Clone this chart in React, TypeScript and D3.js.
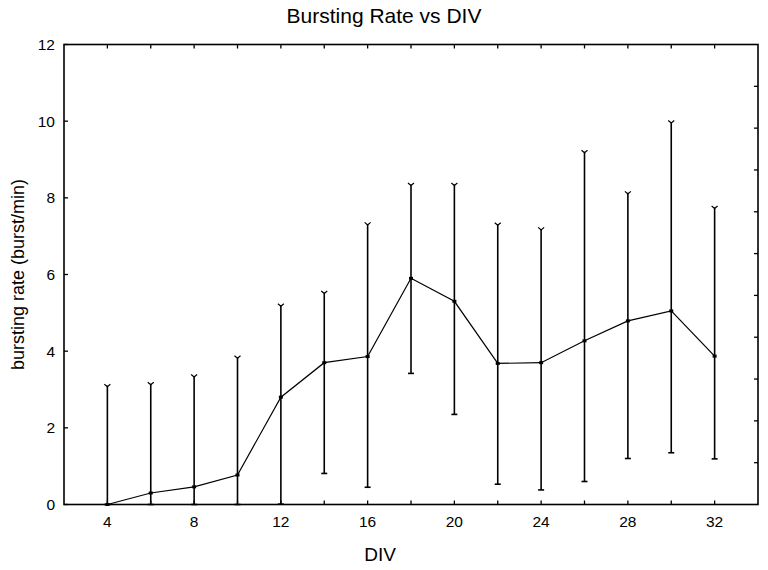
import React, { useRef, useEffect } from 'react';
import * as d3 from 'd3';

const div = [4, 6, 8, 10, 12, 14, 16, 18, 20, 22, 24, 26, 28, 30, 32];
const meanRate = [0.0, 0.3, 0.46, 0.77, 2.8, 3.7, 3.86, 5.9, 5.3, 3.68, 3.7, 4.27, 4.79, 5.05, 3.87];
const upperRate = [3.1, 3.15, 3.35, 3.84, 5.2, 5.53, 7.32, 8.35, 8.35, 7.31, 7.19, 9.2, 8.13, 9.98, 7.75];
const lowerRate = [0.0, 0.0, 0.0, 0.0, 0.01, 0.81, 0.45, 3.42, 2.35, 0.53, 0.38, 0.6, 1.2, 1.35, 1.19];
const xTickLabels = [4, 8, 12, 16, 20, 24, 28, 32];
const xMinorTicks = [4, 6, 8, 10, 12, 14, 16, 18, 20, 22, 24, 26, 28, 30, 32];
const yTickLabels = [0, 2, 4, 6, 8, 10, 12];

const W = 768;
const H = 570;
const FONT = "'Liberation Sans', Arial, sans-serif";

const App: React.FC = () => {
  const svgRef = useRef<SVGSVGElement>(null);

  useEffect(() => {
    if (!svgRef.current) return;
    const svg = d3.select(svgRef.current);
    svg.selectAll('*').remove();

    const left = 64, right = 758, top = 44.5, bottom = 504.5;

    const x = d3.scaleLinear().domain([2, 34]).range([left, right]);
    const y = d3.scaleLinear().domain([0, 12]).range([bottom, top]);
    // right-hand axis of the frame has its own 11 divisions
    const yRight = d3.scaleLinear().domain([0, 11]).range([bottom, top]);

    const tick = 4;
    const g = svg.append('g');

    // frame
    g.append('rect')
      .attr('x', left).attr('y', top)
      .attr('width', right - left).attr('height', bottom - top)
      .attr('fill', 'none').attr('stroke', '#000').attr('stroke-width', 1.6);

    // bottom + top ticks
    xMinorTicks.forEach(v => {
      g.append('line').attr('x1', x(v)).attr('x2', x(v))
        .attr('y1', bottom).attr('y2', bottom - tick)
        .attr('stroke', '#000').attr('stroke-width', 1.3);
      g.append('line').attr('x1', x(v)).attr('x2', x(v))
        .attr('y1', top).attr('y2', top + tick)
        .attr('stroke', '#000').attr('stroke-width', 1.3);
    });

    // left ticks
    yTickLabels.forEach(v => {
      g.append('line').attr('x1', left).attr('x2', left + tick)
        .attr('y1', y(v)).attr('y2', y(v))
        .attr('stroke', '#000').attr('stroke-width', 1.3);
      g.append('text')
        .attr('x', left - 9).attr('y', y(v) + 5.5)
        .attr('text-anchor', 'end')
        .style('font-family', FONT).style('font-size', '15.5px')
        .text(v);
    });

    // right ticks
    d3.range(1, 11).forEach(v => {
      g.append('line').attr('x1', right).attr('x2', right - tick)
        .attr('y1', yRight(v)).attr('y2', yRight(v))
        .attr('stroke', '#000').attr('stroke-width', 1.3);
    });

    xTickLabels.forEach(v => {
      g.append('text')
        .attr('x', x(v)).attr('y', bottom + 22)
        .attr('text-anchor', 'middle')
        .style('font-family', FONT).style('font-size', '15.5px')
        .text(v);
    });

    // error bars
    div.forEach((d, i) => {
      const cx = x(d);
      g.append('line')
        .attr('x1', cx).attr('x2', cx)
        .attr('y1', y(upperRate[i])).attr('y2', y(lowerRate[i]))
        .attr('stroke', '#000').attr('stroke-width', 1.6);
      // top cap (small V)
      g.append('path')
        .attr('d', `M${cx - 3},${y(upperRate[i]) - 1.5} L${cx},${y(upperRate[i]) + 1} L${cx + 3},${y(upperRate[i]) - 1.5}`)
        .attr('fill', 'none').attr('stroke', '#000').attr('stroke-width', 1.2);
      // bottom cap
      g.append('line')
        .attr('x1', cx - 3).attr('x2', cx + 3)
        .attr('y1', y(lowerRate[i])).attr('y2', y(lowerRate[i]))
        .attr('stroke', '#000').attr('stroke-width', 1.6);
    });

    // mean line
    const line = d3.line<number>()
      .x((_, i) => x(div[i]))
      .y(v => y(v));
    g.append('path')
      .datum(meanRate)
      .attr('d', line)
      .attr('fill', 'none').attr('stroke', '#000').attr('stroke-width', 1.2);

    g.selectAll('.pt')
      .data(meanRate)
      .enter()
      .append('rect')
      .attr('class', 'pt')
      .attr('x', (_, i) => x(div[i]) - 2)
      .attr('y', v => y(v) - 1.5)
      .attr('width', 4).attr('height', 3)
      .attr('fill', '#000');

    // titles
    svg.append('text')
      .attr('x', 384).attr('y', 23)
      .attr('text-anchor', 'middle')
      .style('font-family', FONT).style('font-size', '21px')
      .text('Bursting Rate vs DIV');

    svg.append('text')
      .attr('x', 380).attr('y', 561)
      .attr('text-anchor', 'middle')
      .style('font-family', FONT).style('font-size', '19px')
      .text('DIV');

    svg.append('text')
      .attr('transform', `translate(24, ${(top + bottom) / 2}) rotate(-90)`)
      .attr('text-anchor', 'middle')
      .style('font-family', FONT).style('font-size', '18px')
      .text('bursting rate (burst/min)');
  }, []);

  return (
    <svg
      ref={svgRef}
      width={W}
      height={H}
      style={{ position: 'absolute', left: 0, top: 0, background: '#fff' }}
    />
  );
};

export default App;
